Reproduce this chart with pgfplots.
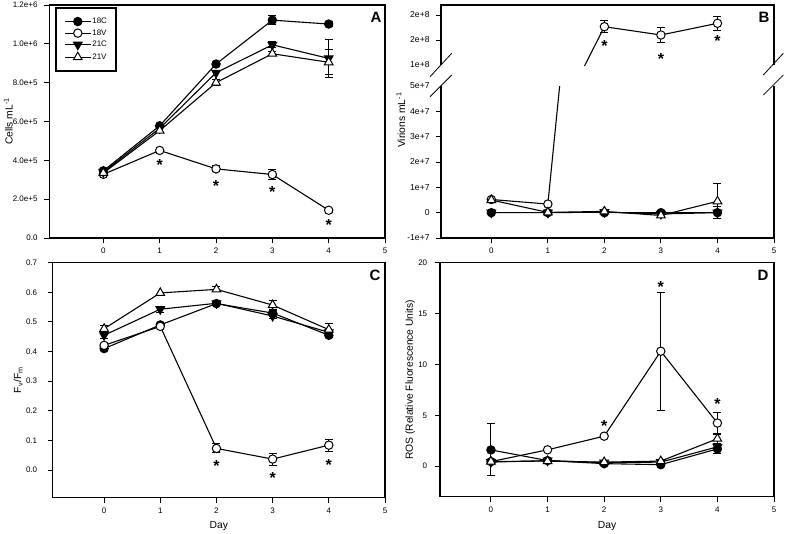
\documentclass[border=0pt]{standalone}
\usepackage{pgfplots}
\pgfplotsset{compat=1.18}
\usepackage{fontspec}
\setmainfont{Liberation Sans}
\setsansfont{Liberation Sans}

\tikzset{letter/.style={font=\fontsize{15}{15}\selectfont\bfseries}}
\pgfplotsset{
  panel/.style={
    scale only axis,
    axis line style={line width=1.1pt},
    tick align=outside,
    xtick pos=bottom, ytick pos=left,
    major tick length=5pt,
    tick style={line width=1pt, black},
    xmax=5,
    xtick={0,1,2,3,4,5},
    xticklabels={0,1,2,3,4,5},
    ticklabel style={font=\fontsize{8}{9}\selectfont},
    /pgf/number format/assume math mode=true,
    xticklabel style={yshift=-1.5pt},
    label style={font=\fontsize{10.3}{12}\selectfont},
    scaled y ticks=false,
    legend image code/.code={\draw[mark repeat=2,mark phase=2,#1] plot coordinates {(0pt,0pt)(13pt,0pt)(26pt,0pt)};},
  },
  s18C/.style={black, line width=1.1pt, mark=*, mark size=4.2pt, mark options={solid, fill=black, line width=1pt}},
  s18V/.style={black, line width=1.1pt, mark=*, mark size=4.2pt, mark options={solid, fill=white, line width=1pt}},
  s21C/.style={black, line width=1.1pt, mark=triangle*, mark size=5pt, mark options={solid, fill=black, rotate=180, line width=1pt}},
  s21V/.style={black, line width=1.1pt, mark=triangle*, mark size=5pt, mark options={solid, fill=white, line width=1pt}},
  eb/.style={error bars/.cd, y dir=both, y explicit,
    error bar style={line width=1pt, black},
    error mark options={rotate=90, line width=1pt, mark size=4pt, black}},
  stars/.style={draw=none, mark=none, nodes near coords={\textbf{*}},
    every node near coord/.style={anchor=center, font=\fontsize{16}{16}\selectfont, yshift=-4pt, inner sep=0pt}},
}

\begin{document}
\begin{tikzpicture}
\path[use as bounding box] (0pt,0pt) rectangle (786pt,-533pt);

% ---------------- Panel A ----------------
\begin{axis}[panel, name=A, at={(49.3pt,-238pt)}, anchor=south west,
  width=335.7pt, height=233pt, xmin=-0.96, ymin=0, ymax=1200000,
  ytick={0,200000,400000,600000,800000,1000000,1200000},
  yticklabels={0.0,2.0e+5,4.0e+5,6.0e+5,8.0e+5,1.0e+6,1.2e+6},
  yticklabel style={xshift=-3.3pt},
  ylabel={Cells mL\textsuperscript{-1}},
  ylabel style={at={(axis description cs:-0.1096,0.5)}, anchor=base},
  legend style={at={(axis description cs:0.018,0.991)}, anchor=north west,
    draw=black, line width=1.8pt, fill=white, font=\fontsize{8}{9.6}\selectfont,
    inner xsep=8pt, inner ysep=9pt, row sep=2.5pt, legend cell align=left,
    nodes={inner sep=1pt}},
]
\addplot[s18C, eb] coordinates {(0,346000) (1,578000) (2,896000) +- (0,10000) (3,1122000) +- (0,22000) (4,1102000) +- (0,12000)};
\addlegendentry{18C}
\addplot[s18V, eb] coordinates {(0,328000) (1,451000) (2,356000) +- (0,16000) (3,327000) +- (0,25000) (4,143000) +- (0,10000)};
\addlegendentry{18V}
\addplot[s21C, eb] coordinates {(0,340000) (1,565000) (2,851000) (3,995000) +- (0,15000) (4,925000) +- (0,98000)};
\addlegendentry{21C}
\addplot[s21V, eb] coordinates {(0,335000) (1,553000) (2,800000) +- (0,15000) (3,949000) +- (0,10000) (4,905000) +- (0,65000)};
\addlegendentry{21V}
\addplot[stars, forget plot] coordinates {(1,395000) (2,287000) (3,256000) (4,86000)};
\node[letter] at (rel axis cs:0.973,0.945) {A};
\end{axis}

% ---------------- Panel B (upper part) ----------------
\begin{axis}[panel, name=Bup, at={(441pt,-65pt)}, anchor=south west,
  width=333pt, height=60pt, xmin=-0.89, ymin=150000000, ymax=270000000,
  axis line style={draw=none},
  xtick=\empty,
  ytick={200000000,250000000}, yticklabels={2e+8,2e+8},
  extra y ticks={150000000}, extra y tick labels={1e+8},
  extra y tick style={major tick style={draw=none}},
  yticklabel style={font=\fontsize{8.6}{9}\selectfont, xshift=-2.9pt},
]
\addplot[black, line width=1.1pt, no marks] coordinates {(1,3400000) (2,226600000)};
\addplot[s18V, eb] coordinates {(2,226600000) +- (0,11600000) (3,210000000) +- (0,15600000) (4,233400000) +- (0,13400000)};
\addplot[stars] coordinates {(2,196600000) (3,170000000) (4,206600000)};
\node[letter] at (rel axis cs:0.970,0.80) {B};
\end{axis}

% ---------------- Panel B (lower part) ----------------
\begin{axis}[panel, name=Blo, at={(441pt,-238pt)}, anchor=south west,
  width=333pt, height=152pt, xmin=-0.89, ymin=-10000000, ymax=50000000,
  axis line style={draw=none},
  ytick={-10000000,0,10000000,20000000,30000000,40000000},
  yticklabels={-1e+7,0\hspace{15.5pt},1e+7,2e+7,3e+7,4e+7},
  extra y ticks={50000000}, extra y tick labels={5e+7},
  extra y tick style={major tick style={draw=none}},
  yticklabel style={font=\fontsize{8.6}{9}\selectfont, xshift=-2.9pt},
  ylabel={Virions mL\textsuperscript{-1}},
  ylabel style={at={(axis description cs:-0.108,0.776)}, anchor=base},
]
\addplot[black, line width=1.1pt, no marks] coordinates {(1,3400000) (2,226600000)};
\addplot[s18C, eb] coordinates {(0,0) (1,0) (2,0) (3,0) +- (0,800000) (4,0) +- (0,2300000)};
\addplot[s18V] coordinates {(0,5200000) (1,3400000)};
\addplot[s21C, eb] coordinates {(0,0) (1,0) (2,200000) (3,-500000) (4,0)};
\addplot[s21V, eb] coordinates {(0,5000000) (1,100000) (2,500000) (3,-1100000) (4,4500000) +- (0,6900000)};
\end{axis}

% frames and break marks for B
\draw[line width=1.1pt] (Bup.south west) -- (Bup.north west) -- (Bup.north east) -- (Bup.south east);
\draw[line width=1.1pt] (Blo.north west) -- (Blo.south west) -- (Blo.south east) -- (Blo.north east);
\draw[line width=0.8pt] (430pt,-76.7pt) -- (451.7pt,-53.3pt);
\draw[line width=0.8pt] (430pt,-96.7pt) -- (451.7pt,-75pt);
\draw[line width=0.8pt] (763.3pt,-75pt) -- (783.3pt,-53.3pt);
\draw[line width=0.8pt] (763.3pt,-95pt) -- (783.3pt,-75pt);

% ---------------- Panel C ----------------
\begin{axis}[panel, name=C, at={(52.7pt,-497.7pt)}, anchor=south west,
  width=332.3pt, height=235pt, xmin=-0.915, ymin=-0.0934, ymax=0.7,
  ytick={0,0.1,0.2,0.3,0.4,0.5,0.6,0.7},
  yticklabels={0.0,0.1,0.2,0.3,0.4,0.5,0.6,0.7},
  yticklabel style={xshift=-7pt},
  ylabel={F\textsubscript{v}/F\textsubscript{m}},
  ylabel style={at={(axis description cs:-0.095,0.5)}, anchor=base},
  xlabel={Day},
  xlabel style={at={(axis description cs:0.5,-0.129)}, anchor=base},
]
\addplot[s18C, eb] coordinates {(0,0.41) (1,0.49) (2,0.562) +- (0,0.008) (3,0.53) +- (0,0.01) (4,0.455) +- (0,0.008)};
\addplot[s18V, eb] coordinates {(0,0.421) (1,0.485) (2,0.073) +- (0,0.015) (3,0.037) +- (0,0.02) (4,0.084) +- (0,0.02)};
\addplot[s21C, eb] coordinates {(0,0.455) +- (0,0.01) (1,0.543) +- (0,0.01) (2,0.563) (3,0.52) +- (0,0.01) (4,0.465)};
\addplot[s21V, eb] coordinates {(0,0.477) +- (0,0.012) (1,0.598) (2,0.61) +- (0,0.008) (3,0.557) +- (0,0.015) (4,0.474) +- (0,0.02)};
\addplot[stars] coordinates {(2,0.028) (3,-0.015) (4,0.03)};
\node[letter] at (rel axis cs:0.97,0.948) {C};
\end{axis}

% ---------------- Panel D ----------------
\begin{axis}[panel, name=D, at={(440pt,-496.7pt)}, anchor=south west,
  width=334pt, height=234pt, xmin=-0.9, ymin=-3, ymax=20,
  ytick={0,5,10,15,20}, yticklabels={0,5,10,15,20},
  yticklabel style={xshift=-4.3pt},
  ylabel={ROS (Relative Fluorescence Units)},
  ylabel style={at={(axis description cs:-0.081,0.5)}, anchor=base},
  xlabel={Day},
  xlabel style={at={(axis description cs:0.5,-0.134)}, anchor=base},
]
\addplot[s18C, eb] coordinates {(0,1.6) +- (0,2.55) (1,0.55) (2,0.25) (3,0.15) (4,1.7) +- (0,0.45)};
\addplot[s18V, eb] coordinates {(0,0.45) (1,1.61) (2,2.95) (3,11.3) +- (0,5.8) (4,4.24) +- (0,1.08)};
\addplot[s21C, eb] coordinates {(0,0.4) (1,0.55) (2,0.35) (3,0.4) (4,1.9) +- (0,0.3)};
\addplot[s21V, eb] coordinates {(0,0.46) (1,0.5) (2,0.4) (3,0.5) (4,2.7) +- (0,0.55)};
\addplot[stars] coordinates {(2,4.33) (3,17.97) (4,6.47)};
\node[letter] at (rel axis cs:0.967,0.947) {D};
\end{axis}
\end{tikzpicture}
\end{document}
